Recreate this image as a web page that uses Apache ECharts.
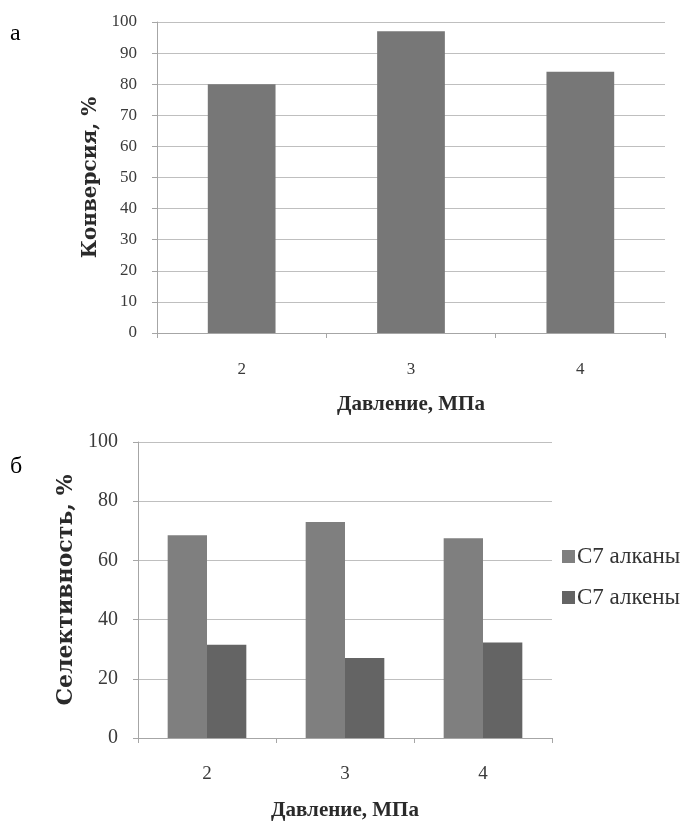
<!DOCTYPE html>
<html>
<head>
<meta charset="utf-8">
<script src="https://cdn.jsdelivr.net/npm/echarts@6/dist/echarts.min.js"></script>
<style>
html,body{margin:0;padding:0;background:#fff;}
#chart{width:690px;height:822px;}
</style>
</head>
<body>
<div id="chart"></div>
<script>
// Data
const pressures = ['2', '3', '4'];
const conversion = [80, 97, 84];
const alkanes = [68.5, 73, 67.5];
const alkenes = [31.5, 27, 32.3];
const seriesNames = ['C7 алканы', 'C7 алкены'];
const xName = 'Давление, МПа';
const yNameTop = 'Конверсия, %';
const yNameBottom = 'Селективность, %';
const panelLabels = ['а', 'б'];

const serif = '"Liberation Serif", "DejaVu Serif", serif';
const boldSerif = '"DejaVu Serif", "Liberation Serif", serif';
const chart = echarts.init(document.getElementById('chart'), null, {renderer: 'canvas'});

function xAxisCfg(gridIndex, margin, gap) {
  return {
    type: 'category', gridIndex: gridIndex, data: pressures,
    axisLine: {lineStyle: {color: '#a6a6a6', width: 1}},
    axisTick: {show: true, length: 5, lineStyle: {color: '#a6a6a6'}},
    axisLabel: {color: '#3a3a3a', fontFamily: serif, fontSize: gridIndex === 0 ? 17 : 19, margin: margin},
    name: xName, nameLocation: 'middle', nameGap: gap,
    nameTextStyle: {color: '#2a2a2a', fontFamily: serif, fontWeight: 'bold', fontSize: 21}
  };
}
function yAxisCfg(gridIndex, interval, name, gap, fs, nfs) {
  return {
    type: 'value', gridIndex: gridIndex, min: 0, max: 100, interval: interval,
    axisLine: {show: true, lineStyle: {color: '#a6a6a6', width: 1}},
    axisTick: {show: true, length: 5, lineStyle: {color: '#a6a6a6'}},
    splitLine: {lineStyle: {color: '#bfbfbf', width: 1}},
    axisLabel: {color: '#3a3a3a', fontFamily: serif, fontSize: fs, margin: 20},
    name: name, nameLocation: 'middle', nameRotate: 90, nameGap: gap,
    nameTextStyle: {color: '#2a2a2a', fontFamily: boldSerif, fontWeight: 'bold', fontSize: nfs}
  };
}

chart.setOption({
  animation: false,
  backgroundColor: '#ffffff',
  graphic: [
    {type: 'text', left: 10, top: 22, style: {text: panelLabels[0], font: '24px ' + serif, fill: '#000'}},
    {type: 'text', left: 10, top: 455, style: {text: panelLabels[1], font: '24px ' + serif, fill: '#000'}}
  ],
  grid: [
    {left: 157, top: 22, width: 508, height: 311},
    {left: 138, top: 442, width: 414, height: 297}
  ],
  xAxis: [xAxisCfg(0, 28, 61), xAxisCfg(1, 27, 62)],
  yAxis: [
    yAxisCfg(0, 10, yNameTop, 54, 17, 20),
    yAxisCfg(1, 20, yNameBottom, 61, 20, 22)
  ],
  legend: {
    orient: 'vertical', left: 557, top: 540,
    itemWidth: 13, itemHeight: 13, itemGap: 18,
    icon: 'rect',
    data: seriesNames,
    textStyle: {color: '#333', fontFamily: serif, fontSize: 23, lineHeight: 22, padding: [0, 0, 0, -3]}
  },
  series: [
    {type: 'bar', xAxisIndex: 0, yAxisIndex: 0, data: conversion, barCategoryGap: '60%',
     itemStyle: {color: '#777777'}},
    {type: 'bar', name: seriesNames[0], xAxisIndex: 1, yAxisIndex: 1, data: alkanes,
     barCategoryGap: '43%', barGap: '0%', itemStyle: {color: '#7f7f7f'}},
    {type: 'bar', name: seriesNames[1], xAxisIndex: 1, yAxisIndex: 1, data: alkenes,
     barCategoryGap: '43%', barGap: '0%', itemStyle: {color: '#646464'}}
  ]
});
</script>
</body>
</html>
